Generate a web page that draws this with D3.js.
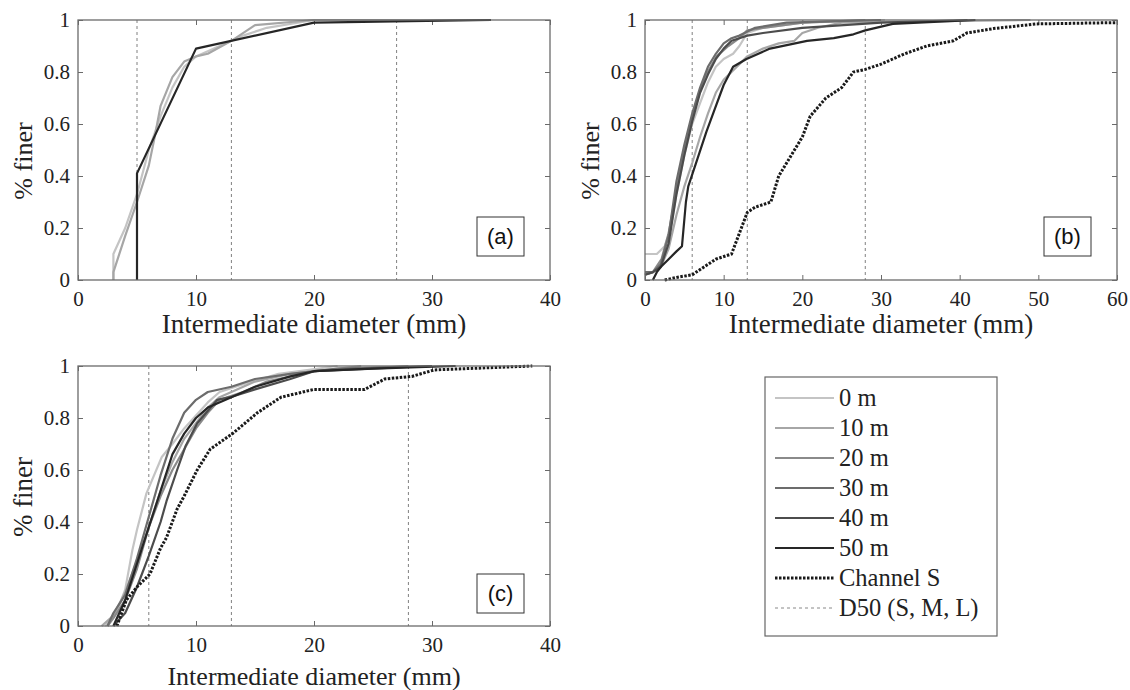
<!DOCTYPE html>
<html>
<head>
<meta charset="utf-8">
<script src="https://cdn.jsdelivr.net/npm/d3@7"></script>
<style>
  body { margin: 0; background: #fff; }
  svg { display: block; }
</style>
</head>
<body>
<svg id="canvas" width="1130" height="690"></svg>
<script>
// series names and grey levels
var seriesNames = ["0 m", "10 m", "20 m", "30 m", "40 m", "50 m"];
var seriesColors = ["#c4c4c4", "#a6a6a6", "#8a8a8a", "#6c6c6c", "#4c4c4c", "#262626"];

// panel (a) curves, [diameter mm, fraction finer]
var a_0m  = [[3,0],[3,0.1],[4,0.2],[5,0.33],[6,0.5],[7,0.63],[8,0.74],[9,0.82],[10,0.86],[12,0.9],[14,0.94],[16,0.97],[20,1],[35,1]];
var a_10m = [[3,0],[3,0.03],[4,0.17],[5,0.3],[6,0.44],[6.5,0.55],[7,0.67],[8,0.78],[9,0.84],[10,0.86],[11,0.87],[13,0.92],[15,0.98],[20,1],[35,1]];
var a_50m = [[5,0],[5,0.41],[10,0.89],[20,0.99],[35,1]];

// panel (b)
var b_0m  = [[0,0.1],[1.5,0.1],[2.5,0.13],[3.2,0.19],[4,0.33],[5,0.48],[6,0.6],[7,0.68],[8,0.76],[9,0.82],[10,0.85],[11.2,0.87],[12,0.9],[13,0.95],[15,0.97],[20,0.99],[30.5,1]];
var b_10m = [[0,0.02],[1,0.03],[2,0.05],[3,0.12],[4,0.25],[5,0.36],[6,0.45],[7,0.55],[8,0.64],[9,0.72],[10,0.77],[11,0.8],[12,0.83],[13,0.86],[15,0.89],[17,0.91],[19,0.92],[20,0.95],[22,0.97],[25,0.99],[35,0.995],[49,1]];
var b_20m = [[0,0.02],[1,0.03],[2.1,0.08],[3,0.18],[3.8,0.31],[4.7,0.46],[5.7,0.59],[6.6,0.69],[7.6,0.78],[9.1,0.86],[10.6,0.9],[12,0.93],[13,0.96],[15,0.97],[20,0.99],[28,1]];
var b_30m = [[0,0.03],[1,0.03],[2,0.06],[3,0.17],[4,0.38],[5,0.52],[6,0.64],[7,0.74],[8,0.82],[9,0.87],[10,0.91],[11,0.93],[12,0.94],[14,0.97],[18,0.99],[30,1]];
var b_40m = [[0,0.02],[1,0.03],[2,0.05],[3,0.14],[4,0.33],[5,0.48],[6,0.61],[7,0.72],[8,0.79],[9,0.85],[10,0.89],[11,0.92],[12,0.93],[13,0.94],[15,0.95],[20,0.97],[30,0.99],[41,1]];
var b_50m = [[1,0],[1.5,0.03],[2,0.05],[3,0.08],[4,0.11],[4.7,0.13],[5.2,0.3],[5.5,0.36],[6.6,0.46],[7.8,0.57],[8.9,0.66],[10,0.75],[11.2,0.82],[12.9,0.85],[15.9,0.89],[20.6,0.92],[24,0.93],[26.5,0.945],[28,0.96],[31.5,0.985],[42,1]];
var b_channel = [[2.5,0],[4,0.01],[6,0.02],[7,0.04],[8,0.06],[9,0.08],[11,0.1],[12,0.18],[13,0.26],[14,0.28],[16,0.3],[17,0.4],[18,0.45],[19,0.5],[20,0.55],[21,0.63],[23,0.7],[25,0.74],[26.5,0.8],[28,0.81],[30,0.83],[31.5,0.85],[33,0.87],[35.8,0.9],[39.2,0.92],[40.9,0.95],[44.3,0.967],[49.8,0.985],[60,0.99]];

// panel (c)
var c_0m  = [[2.3,0],[3,0.04],[3.5,0.08],[4,0.14],[4.6,0.29],[5,0.37],[5.8,0.51],[7.1,0.65],[8,0.7],[9,0.76],[10,0.81],[11,0.86],[12,0.9],[14,0.93],[17,0.97],[22,1]];
var c_10m = [[2,0],[3,0.04],[4,0.13],[5,0.25],[6,0.38],[7,0.52],[8,0.63],[9,0.72],[10,0.78],[11,0.84],[12,0.88],[13,0.9],[15,0.94],[18,0.97],[24,1]];
var c_20m = [[2.5,0],[3,0.03],[4,0.1],[5,0.22],[6,0.38],[7,0.5],[8,0.6],[9,0.68],[10,0.76],[11,0.82],[12,0.87],[14,0.9],[16,0.94],[20,0.98],[28,1]];
var c_30m = [[2.5,0],[3,0.05],[4,0.12],[5,0.26],[6,0.42],[7,0.58],[8,0.72],[9,0.82],[10,0.87],[11,0.9],[13,0.92],[15,0.95],[18,0.97],[22,0.99],[30,1]];
var c_40m = [[3,0],[4,0.05],[5,0.15],[6,0.27],[7,0.4],[7.5,0.48],[8.4,0.6],[9.1,0.69],[10.1,0.78],[11.8,0.87],[12.9,0.88],[15,0.91],[18,0.95],[20,0.98],[30,1]];
var c_50m = [[3,0],[4,0.1],[5,0.24],[6,0.38],[7,0.52],[8,0.66],[9,0.74],[10,0.8],[11,0.84],[13,0.88],[15,0.92],[18,0.96],[20,0.98],[25,0.99],[32,1]];
var c_channel = [[3.3,0],[4.1,0.1],[5,0.15],[6.1,0.2],[7,0.3],[7.5,0.34],[8.4,0.45],[9,0.5],[10.1,0.6],[11.2,0.68],[13.1,0.74],[15.2,0.82],[17.2,0.88],[20,0.91],[22.3,0.91],[24.3,0.91],[26,0.95],[28.3,0.96],[30.2,0.985],[38.5,1]];

// D50 reference lines (S, M, L)
var a_d50 = [5, 13, 27];
var b_d50 = [6, 13, 28];
var c_d50 = [6, 13, 28];

var yTicks = [0, 0.2, 0.4, 0.6, 0.8, 1];

var serif = "'Liberation Serif', 'Times New Roman', Times, serif";
var canvas = d3.select("#canvas");

function drawPanel(p) {
    var px = p.x, py = p.y, pw = p.w, ph = p.h;
    var x = d3.scaleLinear().domain([0, p.xmax]).range([px, px + pw]);
    var y = d3.scaleLinear().domain([0, 1]).range([py + ph, py]);
    var g = canvas.append("g");
    var xt = d3.range(0, p.xmax + 0.001, 10);
    var tl = 5;

    // ticks on all four sides, pointing in
    g.append("g").attr("transform", "translate(0," + (py + ph) + ")")
        .call(d3.axisBottom(x).tickValues(xt).tickSize(-tl).tickPadding(11).tickFormat(d3.format("d")));
    g.append("g").attr("transform", "translate(0," + py + ")")
        .call(d3.axisTop(x).tickValues(xt).tickSize(-tl).tickFormat(""));
    g.append("g").attr("transform", "translate(" + px + ",0)")
        .call(d3.axisLeft(y).tickValues(yTicks).tickSize(-tl).tickPadding(8).tickFormat(function(d){ return d; }));
    g.append("g").attr("transform", "translate(" + (px + pw) + ",0)")
        .call(d3.axisRight(y).tickValues(yTicks).tickSize(-tl).tickFormat(""));
    g.selectAll(".domain").remove();
    g.selectAll(".tick line").attr("stroke", "#6a6a6a");
    g.selectAll(".tick text")
        .style("font-family", serif)
        .style("font-size", "21px").attr("fill", "#222");

    // D50 lines
    g.selectAll(".d50").data(p.d50).enter().append("line")
        .attr("x1", function(d){ return x(d); }).attr("x2", function(d){ return x(d); })
        .attr("y1", py).attr("y2", py + ph)
        .attr("stroke", "#808080").attr("stroke-width", 1).attr("stroke-dasharray", "3,3");

    var line = d3.line().x(function(d){ return x(d[0]); }).y(function(d){ return y(d[1]); });

    p.curves.forEach(function(c) {
        g.append("path").attr("d", line(c.data))
            .attr("fill", "none").attr("stroke", seriesColors[c.idx])
            .attr("stroke-width", 2.2).attr("stroke-linejoin", "round");
    });
    if (p.channel) {
        g.append("path").attr("d", line(p.channel))
            .attr("fill", "none").attr("stroke", "#1a1a1a")
            .attr("stroke-width", 3).attr("stroke-dasharray", "2.5,1.5");
    }

    // frame
    g.append("rect").attr("x", px).attr("y", py).attr("width", pw).attr("height", ph)
        .attr("fill", "none").attr("stroke", "#6a6a6a").attr("stroke-width", 1.3);

    // panel tag box
    g.append("rect").attr("x", px + pw - 73).attr("y", py + ph - p.tagBottom - 39).attr("width", 47).attr("height", 39)
        .attr("fill", "#fff").attr("stroke", "#333").attr("stroke-width", 1);
    g.append("text").attr("x", px + pw - 49.5).attr("y", py + ph - p.tagBottom - 12)
        .attr("text-anchor", "middle")
        .style("font-family", "'Liberation Sans', Arial, sans-serif").style("font-size", "22px")
        .attr("fill", "#111").text(p.tag);

    // axis titles
    g.append("text").attr("x", px + pw / 2).attr("y", py + ph + p.titleOff)
        .attr("text-anchor", "middle")
        .style("font-family", serif).style("font-size", p.titleSize + "px")
        .attr("fill", "#222").text("Intermediate diameter (mm)");
    g.append("text")
        .attr("transform", "translate(" + (px - 46) + "," + (py + ph / 2 + p.yLabOff) + ") rotate(-90)")
        .attr("text-anchor", "middle")
        .style("font-family", serif).style("font-size", p.yLabSize + "px")
        .attr("fill", "#222").text("% finer");
    return g;
}

drawPanel({x: 78, y: 20, w: 472, h: 260, xmax: 40, tag: "(a)", tagBottom: 24,
    titleOff: 53, titleSize: 27, yLabOff: 11, yLabSize: 26, d50: a_d50, channel: null,
    curves: [{idx: 0, data: a_0m}, {idx: 1, data: a_10m}, {idx: 5, data: a_50m}]});

drawPanel({x: 645, y: 20, w: 472, h: 260, xmax: 60, tag: "(b)", tagBottom: 24,
    titleOff: 53, titleSize: 27, yLabOff: 11, yLabSize: 26, d50: b_d50, channel: b_channel,
    curves: [{idx: 0, data: b_0m}, {idx: 1, data: b_10m}, {idx: 2, data: b_20m},
             {idx: 3, data: b_30m}, {idx: 4, data: b_40m}, {idx: 5, data: b_50m}]});

drawPanel({x: 78, y: 366, w: 472, h: 260, xmax: 40, tag: "(c)", tagBottom: 13,
    titleOff: 59, titleSize: 26, yLabOff: 1, yLabSize: 27, d50: c_d50, channel: c_channel,
    curves: [{idx: 0, data: c_0m}, {idx: 1, data: c_10m}, {idx: 2, data: c_20m},
             {idx: 3, data: c_30m}, {idx: 4, data: c_40m}, {idx: 5, data: c_50m}]});

// legend
var legendLabels = seriesNames.concat(["Channel S", "D50 (S, M, L)"]);
var lg = canvas.append("g");
lg.append("rect").attr("x", 765).attr("y", 377).attr("width", 232).attr("height", 259)
    .attr("fill", "#fff").attr("stroke", "#666").attr("stroke-width", 1.2);
legendLabels.forEach(function(lab, i) {
    var yy = 398 + i * 30;
    var ln = lg.append("line").attr("x1", 775).attr("x2", 834).attr("y1", yy).attr("y2", yy);
    if (i < 6) {
        ln.attr("stroke", seriesColors[i]).attr("stroke-width", 2.2);
    } else if (i == 6) {
        ln.attr("stroke", "#1a1a1a").attr("stroke-width", 3).attr("stroke-dasharray", "2.5,1.5");
    } else {
        ln.attr("stroke", "#888").attr("stroke-width", 1).attr("stroke-dasharray", "3,3");
    }
    lg.append("text").attr("x", 839).attr("y", yy + 8)
        .style("font-family", serif).style("font-size", "24.5px")
        .attr("fill", "#222").text(lab);
});
</script>
</body>
</html>
